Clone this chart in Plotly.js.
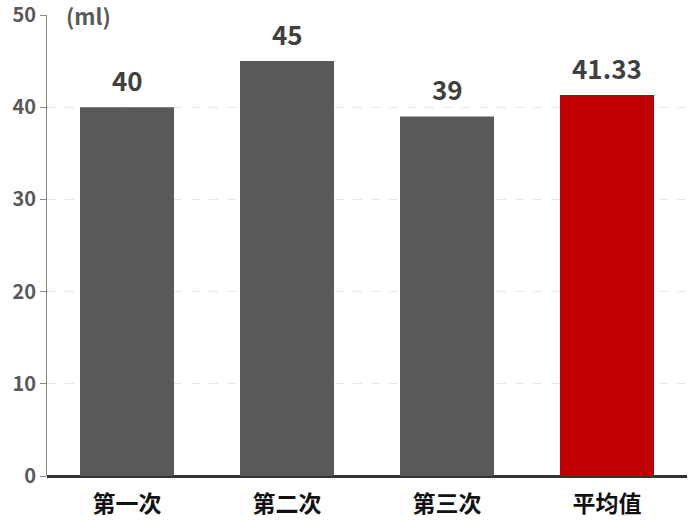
<!DOCTYPE html>
<html><head><meta charset="utf-8">
<script src="https://cdn.plot.ly/plotly-3.0.1.min.js"></script>
<style>html,body{margin:0;padding:0;background:#fff}</style>
</head><body>
<div id="chart" style="width:690px;height:532px"></div>
<script>
const categories = ["第一次", "第二次", "第三次", "平均值"];
const values = [40, 45, 39, 41.33];
const labels = ["40", "45", "39", "41.33"];
const barColors = ["#595959", "#595959", "#595959", "#C00000"];
const yTicks = [0, 10, 20, 30, 40, 50];

const F = '"Noto Sans CJK SC", "Noto Sans", sans-serif';

const trace = {
  type: "bar",
  x: categories,
  y: values,
  marker: {color: barColors},
  hoverinfo: "none"
};

const annotations = categories.map((c, i) => ({
  x: c, y: values[i], xref: "x", yref: "y",
  text: "<b>" + labels[i] + "</b>", showarrow: false,
  yanchor: "bottom", yshift: 7,
  font: {family: F, size: 26, color: "#404040"}
}));
annotations.push({
  xref: "paper", yref: "paper", x: 0.026, y: 1.0, xanchor: "left", yanchor: "middle",
  text: "<b>(ml)</b>", showarrow: false,
  font: {family: F, size: 22, color: "#595959"}
});

const layout = {
  width: 690, height: 532,
  margin: {l: 47, r: 3, t: 15, b: 56},
  paper_bgcolor: "#fff", plot_bgcolor: "#fff",
  bargap: 0.4125,
  showlegend: false,
  xaxis: {
    showgrid: false, zeroline: false,
    showline: false,
    ticks: "",
    tickfont: {family: F, size: 23, color: "#111", weight: "bold"},
    ticklabelstandoff: 12
  },
  yaxis: {
    range: [0, 50], tickvals: yTicks, ticktext: yTicks.map(String),
    showgrid: true, gridcolor: "#e6e6e6", griddash: "dash", gridwidth: 1,
    zeroline: true, zerolinecolor: "#333", zerolinewidth: 3,
    showline: true, linecolor: "#888", linewidth: 1,
    ticks: "outside", ticklen: 6, tickcolor: "#888",
    ticklabeloverflow: "allow",
    tickfont: {family: F, size: 20, color: "#595959", weight: "bold"}
  },
  annotations: annotations
};

Plotly.newPlot("chart", [trace], layout, {displayModeBar: false, staticPlot: true});
</script>
</body></html>
